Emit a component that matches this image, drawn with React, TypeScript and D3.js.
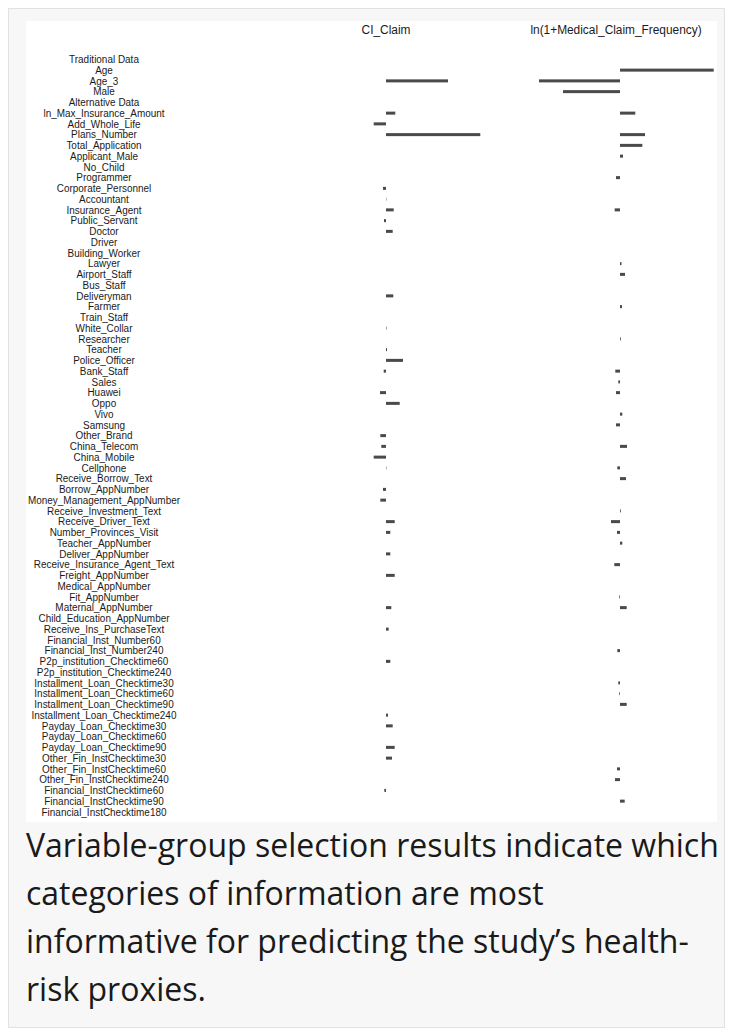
import React, { useEffect, useRef } from "react";
import * as d3 from "d3";

const variables = [
    "Traditional Data", "Age", "Age_3", "Male", "Alternative Data",
    "ln_Max_Insurance_Amount", "Add_Whole_Life", "Plans_Number", "Total_Application", "Applicant_Male",
    "No_Child", "Programmer", "Corporate_Personnel", "Accountant", "Insurance_Agent",
    "Public_Servant", "Doctor", "Driver", "Building_Worker", "Lawyer",
    "Airport_Staff", "Bus_Staff", "Deliveryman", "Farmer", "Train_Staff",
    "White_Collar", "Researcher", "Teacher", "Police_Officer", "Bank_Staff",
    "Sales", "Huawei", "Oppo", "Vivo", "Samsung",
    "Other_Brand", "China_Telecom", "China_Mobile", "Cellphone", "Receive_Borrow_Text",
    "Borrow_AppNumber", "Money_Management_AppNumber", "Receive_Investment_Text", "Receive_Driver_Text", "Number_Provinces_Visit",
    "Teacher_AppNumber", "Deliver_AppNumber", "Receive_Insurance_Agent_Text", "Freight_AppNumber", "Medical_AppNumber",
    "Fit_AppNumber", "Maternal_AppNumber", "Child_Education_AppNumber", "Receive_Ins_PurchaseText", "Financial_Inst_Number60",
    "Financial_Inst_Number240", "P2p_institution_Checktime60", "P2p_institution_Checktime240", "Installment_Loan_Checktime30", "Installment_Loan_Checktime60",
    "Installment_Loan_Checktime90", "Installment_Loan_Checktime240", "Payday_Loan_Checktime30", "Payday_Loan_Checktime60", "Payday_Loan_Checktime90",
    "Other_Fin_InstChecktime30", "Other_Fin_InstChecktime60", "Other_Fin_InstChecktime240", "Financial_InstChecktime60", "Financial_InstChecktime90",
    "Financial_InstChecktime180",
];

const ciClaim = [
    0, 0, 0.62, 0, 0,
    0.093, -0.123, 0.943, 0, 0,
    0, 0, -0.03, 0.004, 0.077,
    -0.02, 0.067, 0, 0, 0,
    0, 0, 0.073, 0, 0,
    0.005, 0, 0.01, 0.17, -0.023,
    0, -0.06, 0.137, 0, 0,
    -0.057, -0.047, -0.123, 0.004, 0,
    -0.03, -0.057, 0, 0.087, 0.043,
    0, 0.043, 0, 0.087, 0,
    0, 0.053, 0, 0.027, 0,
    0, 0.043, 0, 0, 0,
    0, 0.02, 0.067, 0, 0.087,
    0.06, 0, 0, -0.017, 0,
    0,
];

const medicalFreq = [
    0, 0.937, -0.81, -0.57, 0,
    0.153, 0, 0.25, 0.223, 0.03,
    0, -0.04, 0, 0, -0.053,
    0, 0, 0, 0, 0.015,
    0.05, 0, 0, 0.02, 0,
    0, 0.008, 0, 0, -0.047,
    -0.017, -0.04, 0, 0.023, -0.04,
    0, 0.07, 0, -0.027, 0.06,
    0, 0, 0.008, -0.09, -0.03,
    0.023, 0, -0.057, 0, 0,
    -0.007, 0.067, 0, 0, 0,
    -0.027, 0, 0, -0.017, -0.007,
    0.067, 0, 0, 0, 0,
    0, -0.03, -0.05, 0, 0.047,
    0,
];

const columns = ["CI_Claim", "ln(1+Medical_Claim_Frequency)"];

const caption = "Variable-group selection results indicate which categories of information are most informative for predicting the study\u2019s health-risk proxies.";

function Chart() {
    const ref = useRef<SVGSVGElement>(null);

    useEffect(() => {
        const svg = d3.select(ref.current);
        svg.selectAll("*").remove();

        const width = 691;
        const height = 801;

        // one row per variable
        const y = d3.scaleBand()
            .domain(variables)
            .range([33, 33 + 10.75 * variables.length])
            .paddingInner(0.72)
            .paddingOuter(0.36);

        const xCI = d3.scaleLinear().domain([-1, 1]).range([260, 460]);
        const xMed = d3.scaleLinear().domain([-1, 1]).range([494, 694]);

        svg.append("rect")
            .attr("width", width)
            .attr("height", height)
            .attr("fill", "#ffffff");

        // column headers
        const heads = [xCI(0), xMed(0) - 4];
        svg.append("g")
            .selectAll("text")
            .data(columns)
            .join("text")
            .attr("transform", (d, i) => "translate(" + heads[i] + ",12.5) scale(0.88,1)")
            .attr("text-anchor", "middle")
            .attr("font-family", "Liberation Sans, Arial, sans-serif")
            .attr("font-size", 13.5)
            .attr("fill", "#1a1a1a")
            .text(d => d);

        // variable names
        svg.append("g")
            .selectAll("text")
            .data(variables)
            .join("text")
            .attr("transform", d => "translate(78," + (y(d)! + y.bandwidth() / 2 + 3.8) + ") scale(0.865,1)")
            .attr("text-anchor", "middle")
            .attr("font-family", "Liberation Sans, Arial, sans-serif")
            .attr("font-size", 11.5)
            .attr("fill", "#1a1a1a")
            .text(d => d);

        const drawBars = (values: number[], x: d3.ScaleLinear<number, number>) => {
            svg.append("g")
                .selectAll("rect")
                .data(values.map((v, i) => ({ name: variables[i], v })).filter(d => d.v !== 0))
                .join("rect")
                .attr("x", d => Math.min(x(0), x(d.v)))
                .attr("y", d => y(d.name)!)
                .attr("width", d => Math.abs(x(d.v) - x(0)))
                .attr("height", y.bandwidth())
                .attr("fill", "#4a4a4a");
        };

        drawBars(ciClaim, xCI);
        drawBars(medicalFreq, xMed);
    }, []);

    return <svg ref={ref} width={691} height={801} style={{ display: "block" }} />;
}

export default function App() {
    return (
        <div style={{
            boxSizing: "border-box",
            width: 717,
            height: 1020,
            border: "1px solid #e2e2e2",
            background: "#f7f7f7",
            padding: "12px 7px 10px 17px",
        }}>
            <Chart />
            <div style={{
                marginTop: -1,
                fontFamily: "'Open Sans', sans-serif",
                fontSize: 32,
                lineHeight: "48px",
                color: "#1a1a1a",
                width: 694,
            }}>
                {caption}
            </div>
        </div>
    );
}
